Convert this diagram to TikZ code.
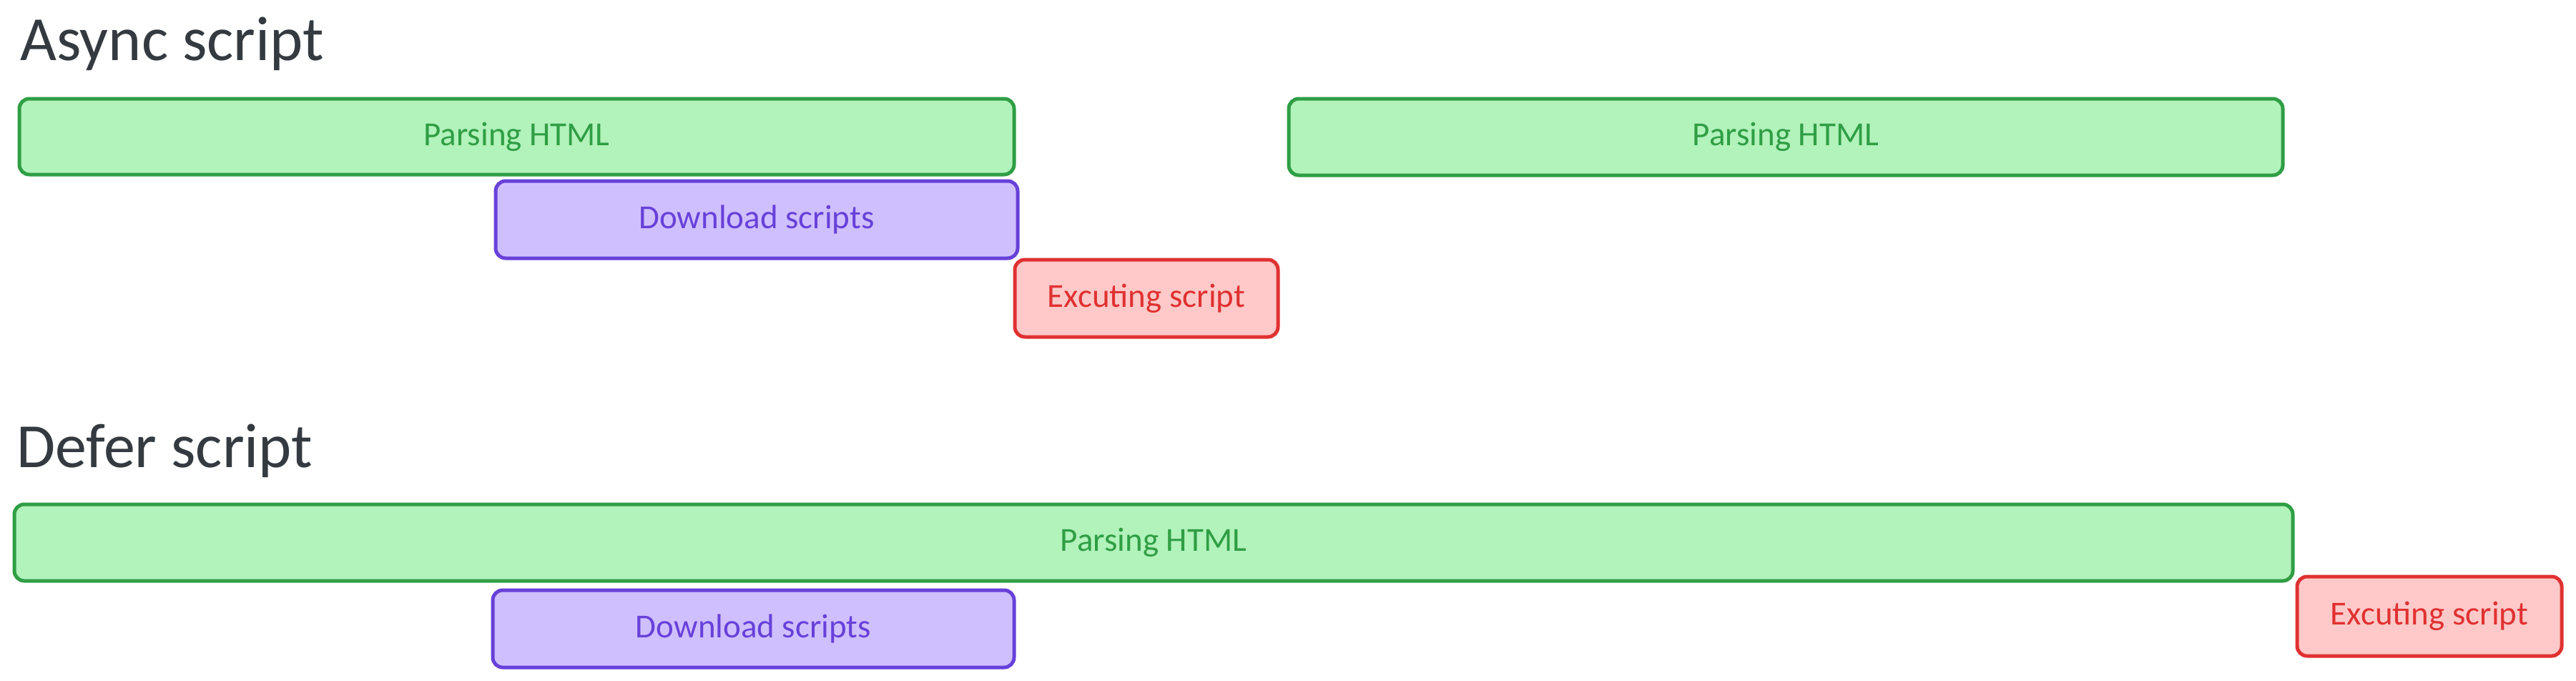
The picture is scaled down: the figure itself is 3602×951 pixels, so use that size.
\documentclass[tikz,border=0pt]{standalone}
\usepackage{fontspec}
\setmainfont{Carlito}
\usepackage{tikz}

\definecolor{titlegray}{RGB}{52,58,64}
\definecolor{parsedraw}{RGB}{47,158,68}
\definecolor{parsefill}{RGB}{178,242,187}
\definecolor{loaddraw}{RGB}{103,65,217}
\definecolor{loadfill}{RGB}{208,191,255}
\definecolor{execdraw}{RGB}{224,49,49}
\definecolor{execfill}{RGB}{255,201,201}

\tikzset{
  bar/.style={rounded corners=14pt, line width=5pt, inner sep=0pt, font=\fontsize{47}{56}\selectfont},
  parsebar/.style={bar, draw=parsedraw, fill=parsefill, text=parsedraw},
  loadbar/.style={bar, draw=loaddraw, fill=loadfill, text=loaddraw},
  execbar/.style={bar, draw=execdraw, fill=execfill, text=execdraw},
  heading/.style={anchor=base west, inner sep=0pt, text=titlegray, font=\fontsize{88}{104}\selectfont}
}

\begin{document}
\begin{tikzpicture}[x=1pt,y=1pt,yscale=-1,xscale=1]
\useasboundingbox (0,0) rectangle (3602,951);

% Text Node
\node (asynctitle) [heading] at (28,84) {Async script};

%Shape: Rectangle [id:parse1]
\node (parse1) [parsebar, minimum width=1391pt, minimum height=106pt] at (722.5,191) {Parsing HTML};
%Shape: Rectangle [id:parse2]
\node (parse2) [parsebar, minimum width=1390pt, minimum height=107pt] at (2497,191.5) {Parsing HTML};
%Shape: Rectangle [id:down1]
\node (down1) [loadbar, minimum width=730pt, minimum height=108pt] at (1058,307) {Download scripts};
%Shape: Rectangle [id:exec1]
\node (exec1) [execbar, minimum width=368pt, minimum height=108pt] at (1603,417) {Excuting script};

% Text Node
\node (defertitle) [heading] at (23,653) {Defer script};

%Shape: Rectangle [id:parse3]
\node (parse3) [parsebar, minimum width=3186pt, minimum height=107pt] at (1613,758.5) {Parsing HTML};
%Shape: Rectangle [id:down2]
\node (down2) [loadbar, minimum width=729pt, minimum height=108pt] at (1053.5,879) {Download scripts};
%Shape: Rectangle [id:exec2]
\node (exec2) [execbar, minimum width=370pt, minimum height=111pt] at (3397,861.5) {Excuting script};

\end{tikzpicture}
\end{document}
